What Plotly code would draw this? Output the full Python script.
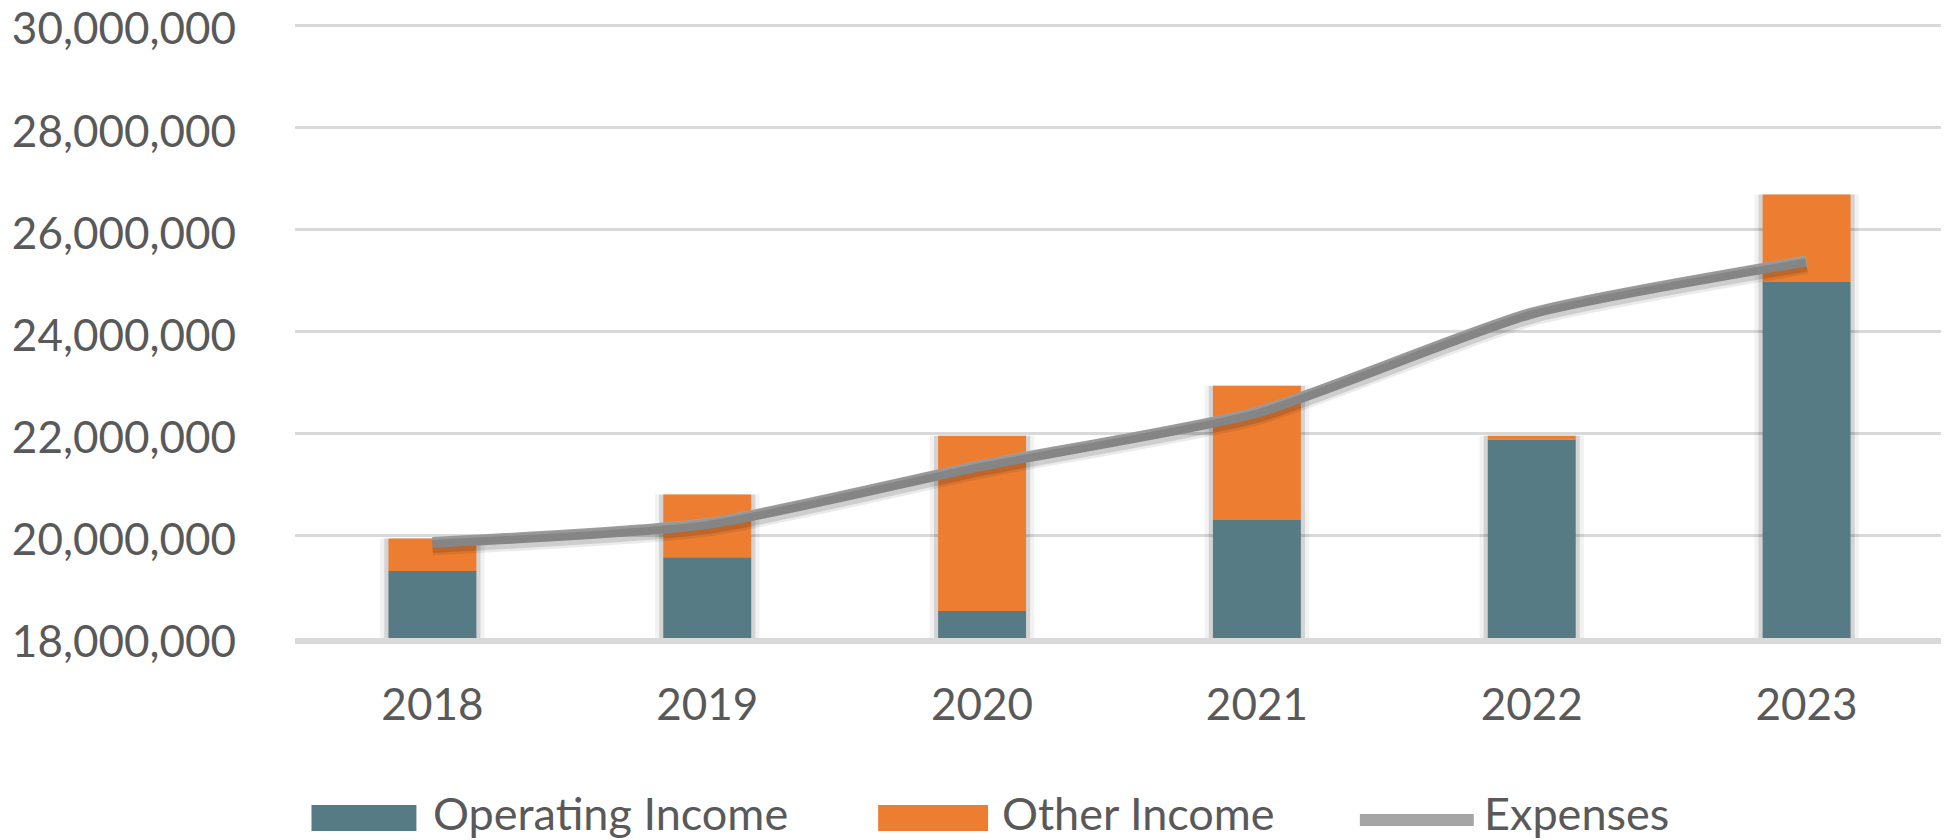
import plotly.graph_objects as go

years = ["2018", "2019", "2020", "2021", "2022", "2023"]
operating_income = [19.31e6, 19.58e6, 18.53e6, 20.31e6, 21.88e6, 24.97e6]
other_income = [0.64e6, 1.23e6, 3.43e6, 2.63e6, 0.08e6, 1.71e6]
expenses = [19.87e6, 20.24e6, 21.38e6, 22.42e6, 24.36e6, 25.38e6]
tick_vals = [18e6, 20e6, 22e6, 24e6, 26e6, 28e6, 30e6]
legend_names = ["Operating Income", "Other Income", "Expenses"]

TEAL = "#567B84"
ORANGE = "#ED7D31"
GRAY = "#A5A5A5"
TEXT = "#595959"
FONT = "Lato"

OFF = 8  # default body margin of the html page
Y0, Y1 = 18e6, 30e6
PPU = (638 - 25) / (Y1 - Y0)      # pixels per unit
top_pad = 2.0                      # px of headroom so the 30M gridline is kept
W, H = 1949 - OFF, 840 - OFF
L, T = 294.5 - OFF, 25 - OFF - top_pad
PR, PB = 1944.5 - OFF, 638 - OFF
R, B = W - PR, H - PB
PW, PH = PR - L, PB - T
Y1r = Y1 + top_pad / PPU

totals = [a + b for a, b in zip(operating_income, other_income)]
shift = 4 / PPU  # shadow offset of ~4px

fig = go.Figure()

# bar shadows
for wdt, col in [(0.38, "rgba(0,0,0,0.05)"), (0.35, "rgba(0,0,0,0.12)")]:
    fig.add_trace(go.Bar(x=years, y=totals, width=wdt, marker_color=col,
                         marker_line_width=0, showlegend=False, hoverinfo="skip"))

fig.add_trace(go.Bar(x=years, y=operating_income, width=0.32, marker_color=TEAL,
                     marker_line_width=0, name=legend_names[0], showlegend=False))
fig.add_trace(go.Bar(x=years, y=other_income, base=operating_income, width=0.32,
                     marker_color=ORANGE, marker_line_width=0, name=legend_names[1],
                     showlegend=False))

# line shadow on shifted overlay axis
fig.add_trace(go.Scatter(x=years, y=expenses, mode="lines", yaxis="y2",
                         line=dict(color="rgba(0,0,0,0.08)", width=18, shape="spline", smoothing=0.6),
                         showlegend=False, hoverinfo="skip"))
fig.add_trace(go.Scatter(x=years, y=expenses, mode="lines", yaxis="y2",
                         line=dict(color="rgba(0,0,0,0.12)", width=13, shape="spline", smoothing=0.6),
                         showlegend=False, hoverinfo="skip"))
fig.add_trace(go.Scatter(x=years, y=expenses, mode="lines", name=legend_names[2],
                         line=dict(color=GRAY, width=11, shape="spline", smoothing=0.6),
                         showlegend=False))

def px(xp):  # page pixel -> paper
    return (xp - OFF - L) / PW

def py(yp):
    return (PB - (yp - OFF)) / PH

shapes = [
    dict(type="rect", xref="paper", yref="paper", x0=px(311), x1=px(416), y0=py(831), y1=py(805),
         fillcolor=TEAL, line_width=0),
    dict(type="rect", xref="paper", yref="paper", x0=px(878), x1=px(988), y0=py(831), y1=py(805),
         fillcolor=ORANGE, line_width=0),
    dict(type="line", xref="paper", yref="paper", x0=px(1360), x1=px(1474), y0=py(820), y1=py(820),
         line=dict(color=GRAY, width=12)),
]
annotations = []
for name, xpos in zip(legend_names, [431, 1000, 1482]):
    annotations.append(dict(text=name, xref="paper", yref="paper", x=px(xpos), y=py(813),
                            xanchor="left", yanchor="middle", showarrow=False,
                            font=dict(family=FONT, size=45, color=TEXT)))

fig.update_layout(
    width=W, height=H,
    margin=dict(l=L, r=R, t=T, b=B, pad=0, autoexpand=False),
    barmode="overlay",
    plot_bgcolor="white", paper_bgcolor="white",
    font=dict(family=FONT, size=44, color=TEXT),
    shapes=shapes, annotations=annotations,
    showlegend=False,
    xaxis=dict(showgrid=False, showline=True, linecolor="#D9D9D9", linewidth=6, automargin=False,
               ticks="", ticklabelstandoff=23, tickfont=dict(size=44, color=TEXT, family=FONT),
               range=[-0.5, 5.5]),
    yaxis=dict(range=[Y0, Y1r], tickvals=tick_vals, tickformat=",d", automargin=False,
               showgrid=True, gridcolor="#D9D9D9", gridwidth=2.5, zeroline=False,
               showline=False, ticks="", ticklabelstandoff=58, ticklabeloverflow="allow",
               ticklabelshift=4,
               tickfont=dict(size=44, color=TEXT, family=FONT)),
    yaxis2=dict(range=[Y0 + shift, Y1r + shift], overlaying="y", visible=False, automargin=False),
)

fig.write_html("out.html")
